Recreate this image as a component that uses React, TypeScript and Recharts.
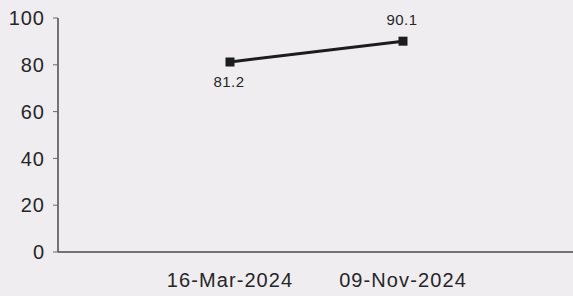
import React from 'react';
import { LineChart, Line, XAxis, YAxis, LabelList } from 'recharts';

const dates = ['16-Mar-2024', '09-Nov-2024'];
const values = [81.2, 90.1];
const yTicks = [0, 20, 40, 60, 80, 100];

const data = dates.map((d, i) => ({ date: d, value: values[i] }));

const SquareDot = (props: any) => {
  const { cx, cy } = props;
  if (cx == null || cy == null) return null;
  return <rect x={cx - 4.5} y={cy - 4.5} width={9} height={9} fill="#1c1c1c" />;
};

const renderLabel = (props: any) => {
  const { x, y, value, index } = props;
  const ty = index === 0 ? y + 20 : y - 22;
  return (
    <text
      x={x - 1}
      y={ty}
      textAnchor="middle"
      dominantBaseline="central"
      fontSize={15}
      fontFamily="'Liberation Sans', Arial, sans-serif"
      fill="#262626"
      letterSpacing={0.5}
    >
      {value}
    </text>
  );
};

export default function App() {
  return (
    <div style={{ position: 'absolute', left: 0, top: 0, width: 573, height: 296, background: '#efedf0' }}>
      <LineChart width={573} height={296} data={data} margin={{ top: 18, right: 0, bottom: 0, left: 0 }}>
        <XAxis
          dataKey="date"
          height={44}
          padding={{ left: 172, right: 170 }}
          tickLine={false}
          tickSize={0}
          tickMargin={21}
          axisLine={{ stroke: '#4a4a4a', strokeWidth: 1.5 }}
          tick={{ fontSize: 20, fill: '#262626', fontFamily: "'Liberation Sans', Arial, sans-serif", letterSpacing: 1.1 } as any}
        />
        <YAxis
          width={58}
          domain={[0, 100]}
          ticks={yTicks}
          interval={0}
          tickSize={5}
          tickMargin={8}
          axisLine={{ stroke: '#4a4a4a', strokeWidth: 1.5 }}
          tickLine={{ stroke: '#6a6a6a', strokeWidth: 1 }}
          tick={{ fontSize: 20, fill: '#262626', fontFamily: "'Liberation Sans', Arial, sans-serif", letterSpacing: 1 } as any}
        />
        <Line
          type="linear"
          dataKey="value"
          stroke="#1c1c1c"
          strokeWidth={3}
          dot={<SquareDot />}
          activeDot={false}
          isAnimationActive={false}
        >
          <LabelList dataKey="value" content={renderLabel} />
        </Line>
      </LineChart>
    </div>
  );
}
